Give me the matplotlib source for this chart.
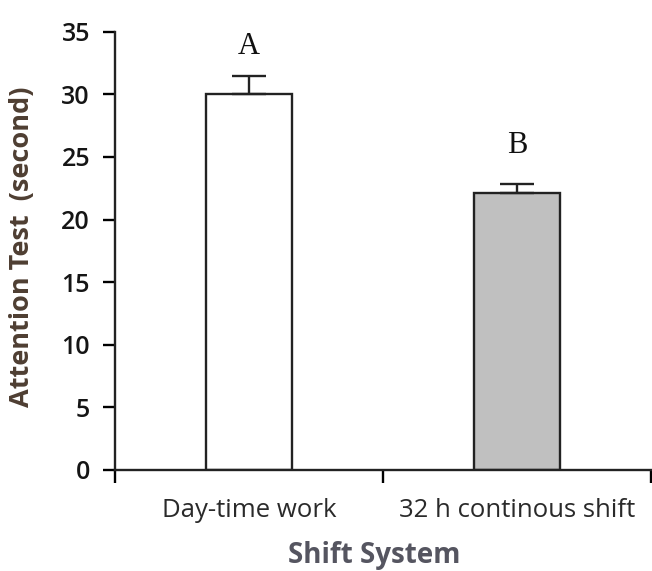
import numpy as np
import matplotlib.pyplot as plt

groups = ['Day-time work', '32 h continous shift']
means = [30.0, 22.1]
err_up = [1.5, 0.75]
letters = ['A', 'B']
letter_gap = [1.75, 2.5]
colors = ['white', '#c0c0c0']

fig = plt.figure(figsize=(6.52, 5.71), dpi=100)
ax = fig.add_axes([0.1764, 0.1769, 0.8220, 0.7675])

x = np.arange(len(groups))
ax.bar(x, means, width=0.32, color=colors, edgecolor='#222222', linewidth=1.7,
       yerr=[[0, 0], err_up], capsize=12,
       error_kw=dict(ecolor='#222222', elinewidth=1.7, capthick=1.7), zorder=2)

for xi, m, e, g, lt in zip(x, means, err_up, letter_gap, letters):
    ax.text(xi, m + e + g, lt, ha='center', va='baseline',
            fontsize=22, family='Liberation Serif', color='#111111')

ax.set_ylim(0, 35)
ax.set_xlim(-0.5, 1.5)
ax.set_yticks(np.arange(0, 36, 5))
ax.tick_params(axis='y', direction='out', length=9, width=1.7, pad=9,
               labelsize=18, labelcolor='#151515')
for lab in ax.get_yticklabels():
    lab.set_family('Open Sans')
    lab.set_fontweight('semibold')

# ticks sit on the category boundaries, names go in between
ax.set_xticks([-0.5, 0.5, 1.5])
ax.set_xticklabels([])
ax.tick_params(axis='x', direction='out', length=9, width=1.7)
for xi, g in zip(x, groups):
    ax.text(xi, -0.065, g, transform=ax.get_xaxis_transform(), ha='center', va='top',
            fontsize=18.5, family='Open Sans', color='#2a2a2a')

ax.spines['top'].set_visible(False)
ax.spines['right'].set_visible(False)
for s in ['left', 'bottom']:
    ax.spines[s].set_linewidth(1.7)
    ax.spines[s].set_color('#222222')

fig.text(0.034, 0.567, 'Attention Test  (second)', rotation=90, ha='center', va='center',
         fontsize=19.5, fontweight='bold', family='Open Sans', color='#4e3e32')
fig.text(0.574, 0.028, 'Shift System', ha='center', va='center', fontsize=20,
         fontweight='bold', family='Open Sans', color='#555560')

plt.savefig('out.png', dpi=100)
